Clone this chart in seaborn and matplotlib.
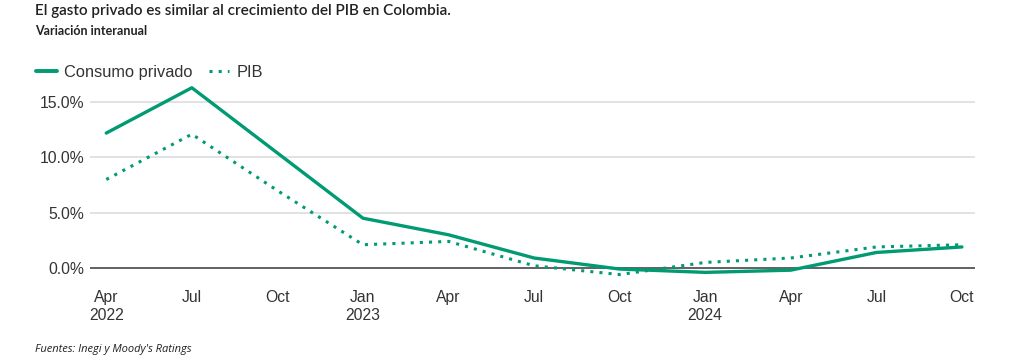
import matplotlib
matplotlib.use("Agg")
import matplotlib.pyplot as plt
import seaborn as sns
import pandas as pd
from matplotlib.lines import Line2D

quarters = ["Apr\n2022", "Jul", "Oct", "Jan\n2023", "Apr", "Jul", "Oct",
            "Jan\n2024", "Apr", "Jul", "Oct"]
consumo = [12.2, 16.3, 10.4, 4.5, 3.0, 0.9, -0.1, -0.4, -0.2, 1.4, 1.9]
pib = [8.0, 12.1, 7.0, 2.1, 2.4, 0.2, -0.6, 0.5, 0.9, 1.9, 2.1]
yticks = [0, 5, 10, 15]
ytick_labels = ["0.0%", "5.0%", "10.0%", "15.0%"]

green = "#009A73"
txt = "#333333"

sns.set_theme(style="white")
plt.rcParams["font.family"] = ["Liberation Sans", "DejaVu Sans"]

df = pd.DataFrame({
    "x": list(range(len(quarters))) * 2,
    "valor": consumo + pib,
    "serie": ["Consumo privado"] * len(quarters) + ["PIB"] * len(quarters),
})

fig = plt.figure(figsize=(10.24, 3.64), dpi=100)
ax = fig.add_axes([0.0879, 0.2335, 0.864, 0.5467])

for y in [5, 10, 15]:
    ax.axhline(y, color="#dddddd", lw=1.2, zorder=0)
ax.axhline(0, color="#555555", lw=1.3, zorder=1)

sns.lineplot(data=df[df.serie == "Consumo privado"], x="x", y="valor", ax=ax,
             color=green, lw=2.4, legend=False, zorder=3)
sns.lineplot(data=df[df.serie == "PIB"], x="x", y="valor", ax=ax,
             color=green, lw=2.2, linestyle=(0, (1, 2)), legend=False, zorder=3)

ax.set_xlim(-0.19, 10.15)
ax.set_ylim(-1, 17)
ax.set_xticks(range(len(quarters)))
ax.set_xticklabels(quarters, fontsize=11.3, color=txt, linespacing=1.2)
ax.set_yticks(yticks)
ax.set_yticklabels(ytick_labels, fontsize=11.3, color=txt)
ax.tick_params(axis="both", length=0, pad=4)
ax.tick_params(axis="x", pad=8)
ax.set_xlabel("")
ax.set_ylabel("")
for s in ax.spines.values():
    s.set_visible(False)

handles = [Line2D([0], [0], color=green, lw=2.8),
           Line2D([0], [0], color=green, lw=2.2, linestyle=(0, (1, 2)))]
fig.legend(handles, ["Consumo privado", "PIB"], loc="center left",
           bbox_to_anchor=(0.021, 0.802), frameon=False, ncol=2,
           fontsize=11.8, handlelength=1.25, handletextpad=0.45, columnspacing=1.0,
           labelcolor=txt)

fig.text(0.034, 0.988, "El gasto privado es similar al crecimiento del PIB en Colombia.",
         fontsize=11.0, fontweight="semibold", color="#222222", va="top",
         family=["Lato", "DejaVu Sans"])
fig.text(0.034, 0.932, "Variación interanual", fontsize=9, fontweight="bold",
         color="#222222", va="top", family=["Lato", "DejaVu Sans"])
fig.text(0.034, 0.04, "Fuentes: Inegi y Moody's Ratings", fontsize=8,
         style="italic", color="#222222", va="center",
         family=["Open Sans", "DejaVu Sans"])

fig.savefig("out.png", dpi=100)
